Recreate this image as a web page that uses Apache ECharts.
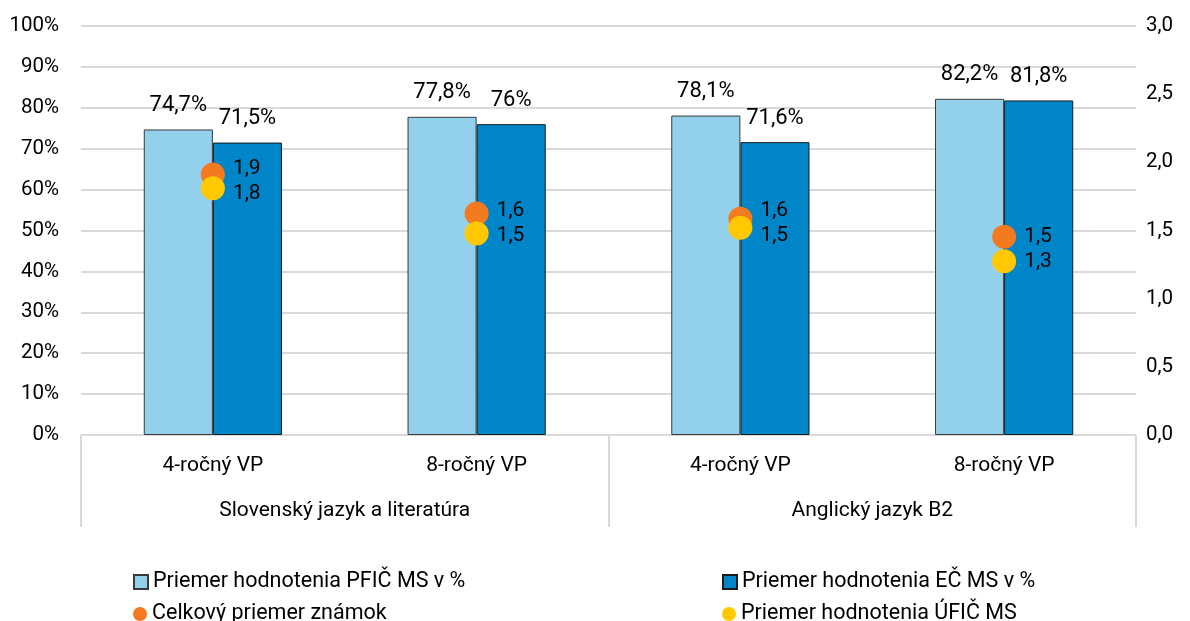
<!DOCTYPE html>
<html>
<head>
<meta charset="utf-8">
<script src="https://cdn.jsdelivr.net/npm/echarts@6/dist/echarts.min.js"></script>
<style>html,body{margin:0;padding:0;background:#fff}#c{width:1190px;height:621px}</style>
</head>
<body>
<div id="c"></div>
<script>
const categories = ['4-ročný VP', '8-ročný VP', '4-ročný VP', '8-ročný VP'];
const groups = ['Slovenský jazyk a literatúra', 'Anglický jazyk B2'];
const seriesNames = ['Priemer hodnotenia PFIČ MS v %', 'Priemer hodnotenia EČ MS v %', 'Celkový priemer známok', 'Priemer hodnotenia ÚFIČ MS'];
const pficValues = [74.7, 77.8, 78.1, 82.2];
const ecValues = [71.5, 76, 71.6, 81.8];
const celkovyValues = [1.91, 1.625, 1.586, 1.454];
const ufioValues = [1.81, 1.478, 1.52, 1.274];

const FONT = 'Roboto';
const pct = v => String(v).replace('.', ',') + '%';
const dec1 = v => v.toFixed(1).replace('.', ',');

const chart = echarts.init(document.getElementById('c'));

// push the two dot labels of one category apart when they would overlap
const MIN_SEP = 25;
function dotLabelShift(params, sign) {
  const i = params.dataIndex;
  const yo = chart.convertToPixel({ yAxisIndex: 1 }, celkovyValues[i]);
  const yy = chart.convertToPixel({ yAxisIndex: 1 }, ufioValues[i]);
  const gap = Math.abs(yy - yo);
  const s = gap < MIN_SEP ? (MIN_SEP - gap) / 2 : 0;
  return { dy: sign * s };
}

function legendItem(name, left, top, icon) {
  return {
    data: [name], left: left, top: top, icon: icon,
    itemWidth: 14, itemHeight: 14, itemGap: 0,
    textStyle: { fontSize: 21.5, color: '#000', fontFamily: FONT }
  };
}

chart.setOption({
  animation: false,
  textStyle: { fontFamily: FONT, color: '#000' },
  grid: { left: 81, right: 54, top: 26, bottom: 186 },
  legend: [
    legendItem(seriesNames[0], 128, 566, 'rect'),
    legendItem(seriesNames[2], 128, 598, 'circle'),
    legendItem(seriesNames[1], 717, 566, 'rect'),
    legendItem(seriesNames[3], 717, 598, 'circle')
  ],
  xAxis: [
    {
      type: 'category', data: categories, position: 'bottom',
      axisLine: { show: true, lineStyle: { color: '#d9d9d9', width: 1 } },
      axisTick: { show: false },
      axisLabel: { fontSize: 21, color: '#000', margin: 20, fontFamily: FONT }
    },
    {
      type: 'category', data: groups, position: 'bottom', gridIndex: 0,
      axisLine: { show: false },
      axisTick: { show: true, length: 92, lineStyle: { color: '#d9d9d9', width: 2 } },
      axisLabel: { fontSize: 21, color: '#000', margin: 65, fontFamily: FONT },
      splitLine: { show: false }
    }
  ],
  yAxis: [
    {
      type: 'value', min: 0, max: 100, interval: 10,
      axisLabel: { formatter: v => v + '%', fontSize: 20.5, color: '#000', margin: 22, fontFamily: FONT },
      axisLine: { show: false }, axisTick: { show: false },
      splitLine: { lineStyle: { color: '#d9d9d9', width: 2 } }
    },
    {
      type: 'value', min: 0, max: 3, interval: 0.5, position: 'right',
      axisLabel: { formatter: v => dec1(v), fontSize: 20.5, color: '#000', margin: 10, fontFamily: FONT },
      axisLine: { show: false }, axisTick: { show: false },
      splitLine: { show: false }
    }
  ],
  series: [
    {
      name: seriesNames[0], type: 'bar', data: pficValues, barWidth: '26.2%', barGap: '0%',
      itemStyle: { color: '#92d0ec', borderColor: '#3a3a3a', borderWidth: 1 },
      label: { show: true, position: 'top', distance: 13, formatter: p => pct(p.value), fontSize: 22, color: '#000', fontFamily: FONT }
    },
    {
      name: seriesNames[1], type: 'bar', data: ecValues, barWidth: '26.2%', barGap: '0%',
      itemStyle: { color: '#0086c8', borderColor: '#1a1a1a', borderWidth: 1 },
      label: { show: true, position: 'top', distance: 13, formatter: p => pct(p.value), fontSize: 22, color: '#000', fontFamily: FONT }
    },
    {
      name: seriesNames[2], type: 'scatter', yAxisIndex: 1, data: celkovyValues, symbolSize: 24,
      itemStyle: { color: '#f47a20', opacity: 1 },
      label: { show: true, position: 'right', distance: 8, formatter: p => dec1(p.value), fontSize: 21, color: '#000', fontFamily: FONT },
      labelLayout: p => dotLabelShift(p, -1),
      z: 5
    },
    {
      name: seriesNames[3], type: 'scatter', yAxisIndex: 1, data: ufioValues, symbolSize: 24,
      itemStyle: { color: '#ffc800', opacity: 1 },
      label: { show: true, position: 'right', distance: 8, formatter: p => dec1(p.value), fontSize: 21, color: '#000', fontFamily: FONT },
      labelLayout: p => dotLabelShift(p, 1),
      z: 6
    }
  ]
});
</script>
</body>
</html>
